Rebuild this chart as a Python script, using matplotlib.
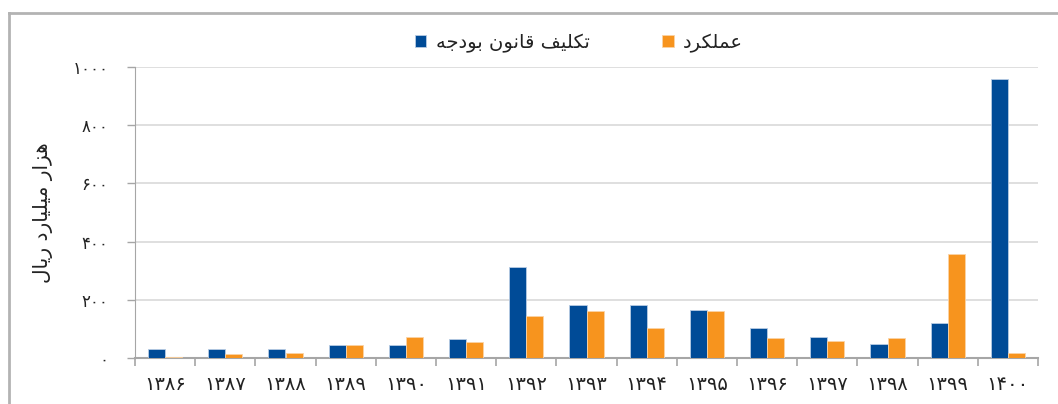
import numpy as np
import matplotlib
matplotlib.use('Agg')
import matplotlib.pyplot as plt
from matplotlib.lines import Line2D

# data
years = ['۱۳۸۶', '۱۳۸۷', '۱۳۸۸', '۱۳۸۹', '۱۳۹۰', '۱۳۹۱', '۱۳۹۲', '۱۳۹۳',
         '۱۳۹۴', '۱۳۹۵', '۱۳۹۶', '۱۳۹۷', '۱۳۹۸', '۱۳۹۹', '۱۴۰۰']
budget_law = [31, 31, 32, 45, 45, 65, 312, 181, 181, 165, 104, 71, 49, 119, 960]
actual = [5, 14, 18, 45, 71, 54, 144, 163, 104, 160, 69, 58, 68, 356, 16]
yticks = [0, 200, 400, 600, 800, 1000]
ytick_labels = ['۰', '۲۰۰', '۴۰۰', '۶۰۰', '۸۰۰', '۱۰۰۰']

label_budget = 'تکلیف قانون بودجه'
label_actual = 'عملکرد'
ylabel = 'هزار میلیارد ریال'

# matplotlib has no arabic shaping, so map letters to presentation forms
# (isolated, final, initial, medial); None = letter does not join forward
FORMS = {
    'ا': ('\uFE8D', '\uFE8E', None, None),
    'ب': ('\uFE8F', '\uFE90', '\uFE91', '\uFE92'),
    'ت': ('\uFE95', '\uFE96', '\uFE97', '\uFE98'),
    'ج': ('\uFE9D', '\uFE9E', '\uFE9F', '\uFEA0'),
    'د': ('\uFEA9', '\uFEAA', None, None),
    'ر': ('\uFEAD', '\uFEAE', None, None),
    'ز': ('\uFEAF', '\uFEB0', None, None),
    'ع': ('\uFEC9', '\uFECA', '\uFECB', '\uFECC'),
    'ف': ('\uFED1', '\uFED2', '\uFED3', '\uFED4'),
    'ق': ('\uFED5', '\uFED6', '\uFED7', '\uFED8'),
    'ل': ('\uFEDD', '\uFEDE', '\uFEDF', '\uFEE0'),
    'م': ('\uFEE1', '\uFEE2', '\uFEE3', '\uFEE4'),
    'ن': ('\uFEE5', '\uFEE6', '\uFEE7', '\uFEE8'),
    'ه': ('\uFEE9', '\uFEEA', '\uFEEB', '\uFEEC'),
    'و': ('\uFEED', '\uFEEE', None, None),
    'ک': ('\uFB8E', '\uFB8F', '\uFB90', '\uFB91'),
    'ی': ('\uFBFC', '\uFBFD', '\uFBFE', '\uFBFF'),
}


def fa(text):
    out = []
    for i, c in enumerate(text):
        if c not in FORMS:
            out.append(c)
            continue
        prev = text[i - 1] if i > 0 else None
        nxt = text[i + 1] if i + 1 < len(text) else None
        j_prev = prev in FORMS and FORMS[prev][2] is not None
        j_next = nxt in FORMS and FORMS[c][2] is not None
        iso, fin, ini, med = FORMS[c]
        if j_prev and j_next:
            out.append(med)
        elif j_prev:
            out.append(fin)
        elif j_next:
            out.append(ini)
        else:
            out.append(iso)
    # visual order for right-to-left text
    return ''.join(out)[::-1]


plt.rcParams['font.family'] = ['DejaVu Sans']

blue = '#004B97'
orange = '#F7941E'
grey = '#A6A6A6'

fig = plt.figure(figsize=(10.58, 4.04), dpi=100)
ax = fig.add_axes([135 / 1058, 46 / 404, 903 / 1058, 291 / 404])

x = np.arange(len(years))
w = 0.285
ax.bar(x - w / 2, budget_law, w, color=blue, edgecolor='#B8CCE4', linewidth=0.6,
       label=fa(label_budget), zorder=3)
ax.bar(x + w / 2, actual, w, color=orange, edgecolor='#FBD3A5', linewidth=0.6,
       label=fa(label_actual), zorder=3)

ax.set_xlim(-0.5, len(years) - 0.5)
ax.set_ylim(0, 1000)

ax.set_yticks(yticks)
ax.set_yticklabels(ytick_labels, fontsize=12, color='#222222')
ax.tick_params(axis='y', length=6, width=1, color=grey, pad=13)

ax.set_xticks(x)
ax.set_xticklabels(years, fontsize=14, color='#222222')
ax.set_xticks(np.arange(-0.5, len(years), 1), minor=True)
ax.tick_params(axis='x', which='major', length=0, pad=12)
ax.tick_params(axis='x', which='minor', length=6, width=1.2, color=grey)

# gridlines and spines
ax.yaxis.grid(True, color='#D9D9D9', linewidth=1.2, zorder=0)
ax.set_axisbelow(True)
ax.spines['right'].set_visible(False)
ax.spines['top'].set_visible(False)
ax.spines['left'].set_color(grey)
ax.spines['bottom'].set_color(grey)
ax.spines['bottom'].set_linewidth(1.5)

ax.set_ylabel(fa(ylabel), fontsize=14.5, color='#222222', labelpad=14)

ax.legend(loc='center', bbox_to_anchor=(579 / 1058, 361 / 404),
          bbox_transform=fig.transFigure, ncol=2, frameon=False,
          fontsize=14, handlelength=0.6, handleheight=0.6,
          handletextpad=0.5, columnspacing=3.7, labelcolor='#222222')

# outer chart frame (only left and top edges are visible in the crop)
fig.add_artist(Line2D([9 / 1058, 9 / 1058], [0, 391 / 404], color='#B3B3B3',
                      linewidth=2, transform=fig.transFigure))
fig.add_artist(Line2D([9 / 1058, 1], [391 / 404, 391 / 404], color='#B3B3B3',
                      linewidth=2, transform=fig.transFigure))

plt.savefig('out.png', dpi=100)
plt.close()
